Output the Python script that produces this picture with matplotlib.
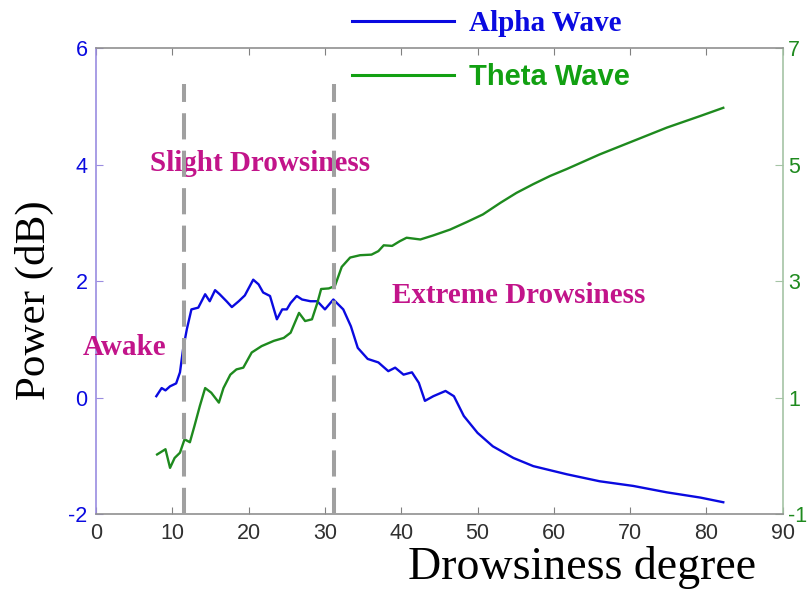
import matplotlib
matplotlib.use("Agg")
import matplotlib.pyplot as plt
from matplotlib.lines import Line2D

plt.rcParams["axes.unicode_minus"] = False

# ---- data ----
alpha_x = [7.9, 8.6, 9.1, 9.7, 10.5, 11.0, 11.4, 11.9, 12.5, 13.4, 14.3, 14.9, 15.6, 16.2, 17.1,
           17.8, 18.7, 19.5, 20.6, 21.3, 21.9, 22.8, 23.7, 24.4, 25.0, 25.5, 26.3, 27.0, 28.1, 29.0,
           30.0, 31.1, 32.4, 33.4, 34.3, 35.6, 37.0, 38.3, 39.2, 40.3, 41.4, 42.3, 43.1, 44.2, 45.8,
           46.9, 48.2, 50.0, 52.0, 54.7, 57.3, 61.7, 66.0, 70.4, 74.8, 79.2, 82.2]
alpha_y = [0.03, 0.17, 0.13, 0.20, 0.25, 0.44, 0.83, 1.18, 1.52, 1.55, 1.78, 1.66, 1.85, 1.78, 1.66,
           1.56, 1.66, 1.76, 2.03, 1.95, 1.81, 1.75, 1.35, 1.52, 1.52, 1.63, 1.75, 1.69, 1.66, 1.66,
           1.52, 1.69, 1.52, 1.23, 0.86, 0.67, 0.61, 0.46, 0.52, 0.40, 0.44, 0.26, -0.05, 0.03, 0.12,
           0.03, -0.31, -0.60, -0.83, -1.03, -1.17, -1.31, -1.43, -1.51, -1.62, -1.71, -1.79]

theta_x = [8.0, 9.1, 9.7, 10.3, 11.0, 11.6, 12.3, 12.9, 13.6, 14.3, 15.1, 16.1, 16.7, 17.6, 18.4,
           19.3, 20.4, 21.7, 23.3, 24.6, 25.5, 26.6, 27.4, 28.3, 29.0, 29.5, 30.5, 31.3, 32.2, 33.3,
           34.6, 36.1, 37.0, 37.7, 38.8, 39.8, 40.7, 42.5, 44.2, 46.4, 48.6, 50.7, 53.0, 55.1, 57.3,
           59.5, 61.7, 66.0, 70.4, 74.8, 79.2, 82.2]
theta_y = [0.03, 0.12, -0.20, -0.03, 0.06, 0.29, 0.24, 0.52, 0.86, 1.17, 1.09, 0.92, 1.17, 1.40, 1.49,
           1.52, 1.78, 1.89, 1.98, 2.03, 2.12, 2.46, 2.32, 2.35, 2.63, 2.87, 2.88, 2.92, 3.25, 3.41,
           3.45, 3.46, 3.52, 3.62, 3.61, 3.69, 3.75, 3.72, 3.79, 3.89, 4.02, 4.15, 4.35, 4.52, 4.67,
           4.81, 4.93, 5.18, 5.41, 5.64, 5.84, 5.98]

boundaries = [11.5, 31.2]
x_ticks = [0, 10, 20, 30, 40, 50, 60, 70, 80, 90]
left_ticks = [-2, 0, 2, 4, 6]
right_ticks = [-1, 1, 3, 5, 7]
region_labels = ["Awake", "Slight Drowsiness", "Extreme Drowsiness"]
region_pos = [(3.7, 1.86), (21.5, 5.03), (55.4, 2.75)]
series_labels = ["Alpha Wave", "Theta Wave"]

# ---- style ----
BLUE = "#0A0AE0"
GREEN = "#1E8A1E"
LEG_GREEN = "#12A012"
MAGENTA = "#C2148A"
SERIF = "Liberation Serif"
SANS = "Liberation Sans"

fig = plt.figure(figsize=(8.07, 5.90), dpi=100)
ax = fig.add_axes([0.119, 0.128, 0.851, 0.790])
ax2 = ax.twinx()

la, = ax.plot(alpha_x, alpha_y, color=BLUE, lw=1.7, solid_joinstyle="round")
lt, = ax2.plot(theta_x, theta_y, color=GREEN, lw=1.7, solid_joinstyle="round")

ax.set_xlim(0, 90)
ax.set_ylim(-2, 6)
ax2.set_ylim(-1, 7)
ax.set_xticks(x_ticks)
ax.set_yticks(left_ticks)
ax2.set_yticks(right_ticks)

# dashed boundaries (drawn on top)
for b in boundaries:
    ax2.plot([b, b], [-1, 6.39], color="#A0A0A0", lw=2.9, dashes=(6.5, 2.8), zorder=5)

for lab, (px, py) in zip(region_labels, region_pos):
    ax2.text(px, py, lab, color=MAGENTA, fontsize=21, fontweight="bold", family=SERIF,
             ha="center", va="center", zorder=4)

# spines
for s in ["left", "right", "top", "bottom"]:
    ax.spines[s].set_visible(False)
ax2.spines["left"].set_color("#9A8CE0")
ax2.spines["right"].set_color("#A5C4A5")
ax2.spines["top"].set_color("#909090")
ax2.spines["bottom"].set_color("#909090")
for s in ax2.spines.values():
    s.set_linewidth(1.2)

ax.tick_params(axis="x", direction="in", top=True, bottom=True, length=5, color="#808080",
               labelsize=15.5, labelcolor="#303030", pad=6)
ax.tick_params(axis="y", direction="in", left=True, right=False, length=5, color="#9A8CE0",
               labelsize=15.5, labelcolor=BLUE, pad=6)
ax2.tick_params(axis="y", direction="in", right=True, length=6, color="#A5C4A5",
                labelsize=15.5, labelcolor=GREEN, pad=4)
for t in ax.get_xticklabels() + ax.get_yticklabels() + ax2.get_yticklabels():
    t.set_family(SANS)

ax.set_ylabel("Power (dB)", family=SERIF, fontsize=31, va="center", ha="center")
ax.yaxis.set_label_coords(-0.089, 0.46)
ax.set_xlabel("Drowsiness degree", family=SERIF, fontsize=33, va="center", ha="center")
ax.xaxis.set_label_coords(0.707, -0.113)

h1 = Line2D([], [], color=BLUE, lw=2.2)
h2 = Line2D([], [], color=LEG_GREEN, lw=2.2)
leg = fig.legend([h1, h2], series_labels, loc="upper left",
                 bbox_to_anchor=(352 / 807, 1 - 10 / 590), frameon=False, fontsize=21,
                 handlelength=3.5, handletextpad=0.5, borderpad=0, borderaxespad=0,
                 labelspacing=0.9)
t1, t2 = leg.get_texts()
t1.set_family(SERIF); t1.set_fontweight("bold"); t1.set_color(BLUE)
t2.set_family(SANS); t2.set_fontweight("bold"); t2.set_color(LEG_GREEN)

fig.savefig("out.png", dpi=100, facecolor="white")
